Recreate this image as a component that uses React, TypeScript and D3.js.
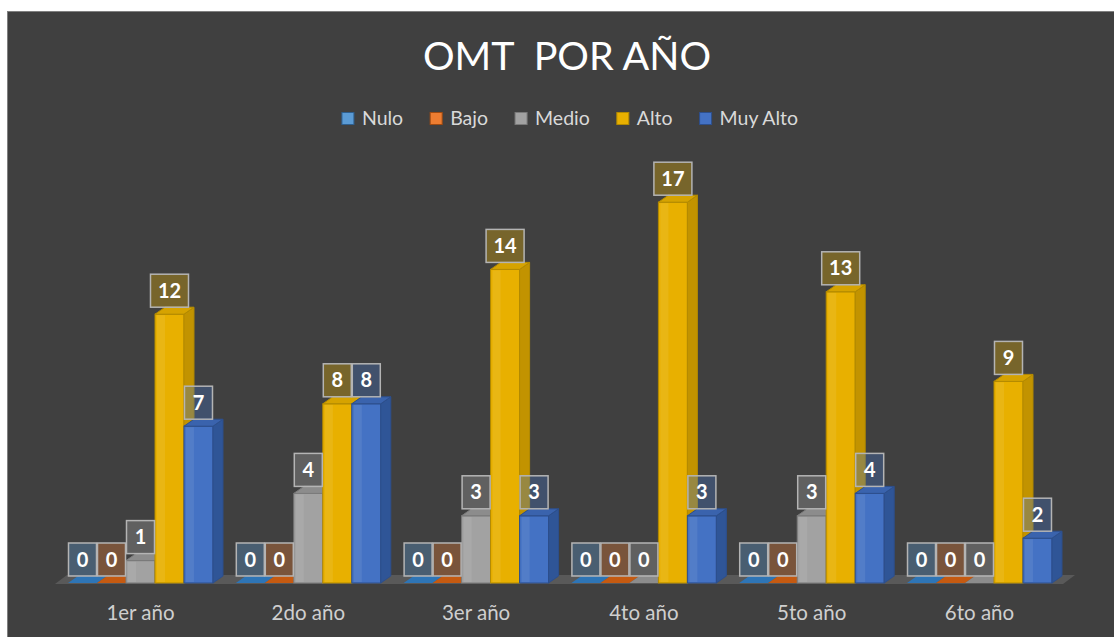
import React, { useEffect, useRef } from 'react'
import * as d3 from 'd3'

const categories = ['1er año', '2do año', '3er año', '4to año', '5to año', '6to año']
const seriesNames = ['Nulo', 'Bajo', 'Medio', 'Alto', 'Muy Alto']
const nulo = [0, 0, 0, 0, 0, 0]
const bajo = [0, 0, 0, 0, 0, 0]
const medio = [1, 4, 3, 0, 3, 0]
const alto = [12, 8, 14, 17, 13, 9]
const muyAlto = [7, 8, 3, 3, 4, 2]
const title = 'OMT  POR AÑO'

const W = 1114
const H = 637

// front / side / top shades per series
const front = ['#5b9bd5', '#ed7d31', '#a2a2a2', '#e8b000', '#4472c4']
const side = ['#2e75b6', '#c55a11', '#7f7f7f', '#c29300', '#2f5597']
const top = ['#2e75b6', '#c55a11', '#8c8c8c', '#d6a300', '#3a63ad']
const edge = ['#2e5f8f', '#a04a10', '#7a7a7a', '#b38a00', '#2d4f8c']

const App = () => {
    const ref = useRef<SVGSVGElement>(null)

    useEffect(() => {
        const svg = d3.select(ref.current)
        svg.selectAll('*').remove()

        const series = [nulo, bajo, medio, alto, muyAlto]
        const base = 583
        const dx = 10
        const dy = -7

        const x = d3.scaleBand().domain(categories).range([56.6, 1063.4]).paddingInner(0.136).paddingOuter(0.068)
        const xs = d3.scaleBand().domain(seriesNames).range([0, x.bandwidth()])
        const y = d3.scaleLinear().domain([0, 20]).range([base, base - 20 * 22.4])

        svg.append('rect')
            .attr('x', 7.5).attr('y', 11.5)
            .attr('width', W - 7).attr('height', H - 11)
            .attr('fill', '#404040').attr('stroke', '#808080')

        svg.append('text')
            .attr('x', 567).attr('y', 70)
            .attr('text-anchor', 'middle')
            .attr('fill', '#ffffff')
            .attr('font-family', 'Lato, sans-serif')
            .attr('font-size', 39.5)
            .style('white-space', 'pre')
            .text(title)

        // legend
        const legend = svg.append('g').attr('font-family', 'Lato, sans-serif').attr('font-size', 19.5)
        const items = legend.selectAll('g').data(seriesNames).join('g')
        items.append('rect')
            .attr('width', 12).attr('height', 12).attr('y', 112.5)
            .attr('fill', (d, i) => front[i]).attr('stroke', (d, i) => edge[i])
        items.append('text')
            .attr('x', 20).attr('y', 125)
            .attr('fill', '#d9d9d9')
            .text(d => d)
        let cx = 0
        const offs: number[] = []
        items.each(function () {
            const t = (this as SVGGElement).querySelector('text') as SVGTextElement
            offs.push(cx)
            cx += 20 + t.getComputedTextLength() + 27
        })
        const total = cx - 27
        const lx0 = 570 - total / 2
        items.attr('transform', (d, i) => `translate(${lx0 + offs[i]},0)`)

        // floor
        const fx0 = 55
        const fx1 = 1063
        svg.append('path')
            .attr('d', `M${fx0},${base + 1}L${fx1},${base + 1}L${fx1 + 12},${base - 8}L${fx0 + 12},${base - 8}Z`)
            .attr('fill', '#595959')

        const bars = svg.append('g')
        categories.forEach((c, ci) => {
            seriesNames.forEach((s, si) => {
                const v = series[si][ci]
                const x0 = x(c)! + xs(s)!
                const bw = xs.bandwidth()
                const y0 = y(v)
                if (v > 0) {
                    bars.append('rect')
                        .attr('x', x0).attr('y', y0)
                        .attr('width', bw).attr('height', base - y0)
                        .attr('fill', front[si]).attr('stroke', edge[si]).attr('stroke-width', 1)
                    bars.append('rect')
                        .attr('x', x0 + 2).attr('y', y0 + 1)
                        .attr('width', 8).attr('height', base - y0 - 2)
                        .attr('fill', '#ffffff').attr('opacity', 0.08)
                    bars.append('path')
                        .attr('d', `M${x0 + bw},${y0}L${x0 + bw + dx},${y0 + dy}L${x0 + bw + dx},${base + dy}L${x0 + bw},${base}Z`)
                        .attr('fill', side[si]).attr('stroke', edge[si]).attr('stroke-width', 1)
                }
                bars.append('path')
                    .attr('d', `M${x0},${y0}L${x0 + bw},${y0}L${x0 + bw + dx},${y0 + dy}L${x0 + dx},${y0 + dy}Z`)
                    .attr('fill', top[si]).attr('stroke', edge[si]).attr('stroke-width', v > 0 ? 1 : 0)
            })
        })

        // data labels
        const labels = svg.append('g').attr('font-family', 'Lato, sans-serif')
        categories.forEach((c, ci) => {
            seriesNames.forEach((s, si) => {
                const v = series[si][ci]
                const mid = x(c)! + xs(s)! + xs.bandwidth() / 2
                const bw = String(v).length > 1 ? 38 : 28
                const bh = 33
                const by = y(v) - 7 - bh
                labels.append('rect')
                    .attr('x', mid - bw / 2).attr('y', by)
                    .attr('width', bw).attr('height', bh)
                    .attr('fill', front[si]).attr('fill-opacity', 0.33)
                    .attr('stroke', '#b4b4b4').attr('stroke-width', 1.5)
                labels.append('text')
                    .attr('x', mid).attr('y', by + bh / 2 + 7)
                    .attr('text-anchor', 'middle')
                    .attr('fill', '#ffffff').attr('font-weight', 'bold').attr('font-size', 20)
                    .text(v)
            })
        })

        // category labels
        svg.append('g')
            .selectAll('text')
            .data(categories)
            .join('text')
            .attr('x', d => x(d)! + x.bandwidth() / 2)
            .attr('y', 620)
            .attr('text-anchor', 'middle')
            .attr('fill', '#cfcfcf')
            .attr('font-family', 'Lato, sans-serif')
            .attr('font-size', 20.5)
            .text(d => d)
    }, [])

    return (
        <svg
            ref={ref}
            width={W}
            height={H}
            style={{ position: 'absolute', left: 0, top: 0, background: '#ffffff' }}
        />
    )
}

export default App
